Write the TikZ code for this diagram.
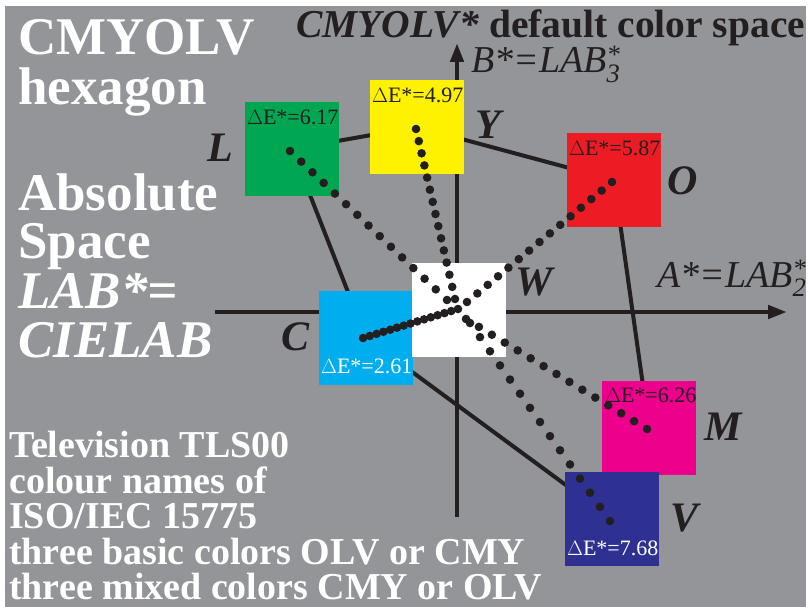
\documentclass[tikz,border=0pt]{standalone}
\usepackage{fontspec}
\setmainfont{Liberation Serif}
\usetikzlibrary{arrows.meta,calc}
\definecolor{grau}{RGB}{147,149,152}
\definecolor{dunkel}{RGB}{35,31,32}
\definecolor{gruen}{RGB}{0,166,81}
\definecolor{gelb}{RGB}{255,242,0}
\definecolor{rot}{RGB}{237,28,36}
\definecolor{magentaf}{RGB}{236,0,140}
\definecolor{blau}{RGB}{46,49,146}
\definecolor{cyanf}{RGB}{0,174,239}
\pgfdeclarelayer{hinten}
\pgfsetlayers{hinten,main}
\newcommand\schrift[1]{\fontsize{#1}{#1}\selectfont}
\tikzset{
  feld/.style={fill=#1, minimum size=94, inner sep=0},
  de/.style={anchor=base west, inner sep=0, font=\schrift{22}},
  ecke/.style={font=\bfseries\itshape\schrift{42}, text=dunkel, inner sep=0},
  weiss/.style={anchor=base west, inner sep=0, text=white, font=\bfseries\schrift{#1}},
  achse/.style={dunkel, line width=4.5, -{Triangle[length=19pt,width=13pt]}},
  kante/.style={dunkel, line width=4}
}
\begin{document}
\begin{tikzpicture}[x=1pt, y=-1pt]
        \useasboundingbox (0,0) rectangle (811,607);
        % Farbfelder
        \node[feld=gruen] (L) at (292,149) {};
        \node[feld=gelb] (Y) at (417,127) {};
        \node[feld=rot] (O) at (614,180) {};
        \node[feld=magentaf] (M) at (649,428) {};
        \node[feld=blau] (V) at (612,519) {};
        \node[feld=cyanf] (C) at (366,338) {};
        \node[feld=white] (W) at (459,310) {};
        \begin{pgfonlayer}{hinten}
            \fill[grau] (5,6) rectangle (806,607);
            % Sechseck
            \draw[kante] (L.center) -- (Y.center) -- (O.center) -- (M.center)
                -- (V.center) -- (C.center) -- cycle;
            % Achsen
            \coordinate (x0) at (215,312);
            \coordinate (x1) at (787,312);
            \coordinate (y0) at (457,517);
            \coordinate (y1) at (457,43);
            \draw[achse] (x0) -- (x1);
            \draw[achse] (y0) -- (y1);
        \end{pgfonlayer}
        % Farbabstaende
        \node[de, text=dunkel] (dL) at ([shift={(2,23)}]L.north west) {$\Delta$E*=6.17};
        \node[de, text=dunkel] (dY) at ([shift={(2,23)}]Y.north west) {$\Delta$E*=4.97};
        \node[de, text=dunkel] (dO) at ([shift={(2,23)}]O.north west) {$\Delta$E*=5.87};
        \node[de, text=dunkel] (dM) at ([shift={(3,22)}]M.north west) {$\Delta$E*=6.26};
        \node[de, text=white] (dV) at ([shift={(2,-11)}]V.south west) {$\Delta$E*=7.68};
        \node[de, text=white] (dC) at ([shift={(2,-12)}]C.south west) {$\Delta$E*=2.61};
        % Punktlinien
        \coordinate (aL) at (290,151); \coordinate (eL) at (447,300);
        \coordinate (aY) at (416,129); \coordinate (eY) at (455,299);
        \coordinate (aO) at (612,182); \coordinate (eO) at (467,302);
        \coordinate (aM) at (647,429); \coordinate (eM) at (466,319);
        \coordinate (aV) at (610,521); \coordinate (eV) at (470,323);
        \coordinate (aC) at (363,338); \coordinate (eC) at (458,309);
        \foreach \f in {L,Y,O,M,V,C}
            \foreach \i in {0,...,14}
                \fill[dunkel] ($(a\f)!\i/14!(e\f)$) circle (4.3);
        % Ecken
        \node[ecke] (nL) at (220,148) {L};
        \node[ecke] (nY) at (488,125) {Y};
        \node[ecke] (nO) at (683,181) {O};
        \node[ecke] (nM) at (723,427) {M};
        \node[ecke] (nV) at (684,518) {V};
        \node[ecke] (nC) at (296,337) {C};
        \node[ecke] (nW) at (534,282) {W};
        % Achsenbeschriftung
        \node[anchor=base west, inner sep=0, text=dunkel, font=\bfseries\schrift{39.5}] (kopf)
            at (296,38) {\textit{CMYOLV*} default color space};
        \node[anchor=base west, inner sep=0, text=dunkel, font=\itshape\schrift{38}] (bA)
            at (471,73) {B*=LAB\rlap{\textsuperscript{*}}\textsubscript{3}};
        \node[anchor=base west, inner sep=0, text=dunkel, font=\itshape\schrift{38}] (aA)
            at (657,287) {A*=LAB\rlap{\textsuperscript{*}}\textsubscript{2}};
        % Texte links
        \foreach \t/\y in {CMYOLV/55, hexagon/105, Absolute/210, Space/258,
                {\itshape LAB*=}/308, {\itshape CIELAB}/357}
            \node[weiss=53] (t\y) at (18,\y) {\t};
        \foreach \t/\y in {Television TLS00/457, colour names of/493,
                {ISO/IEC 15775}/528, three basic colors OLV or CMY/564,
                three mixed colors CMY or OLV/599}
            \node[weiss=38] (u\y) at (9,\y) {\t};
\end{tikzpicture}
\end{document}
